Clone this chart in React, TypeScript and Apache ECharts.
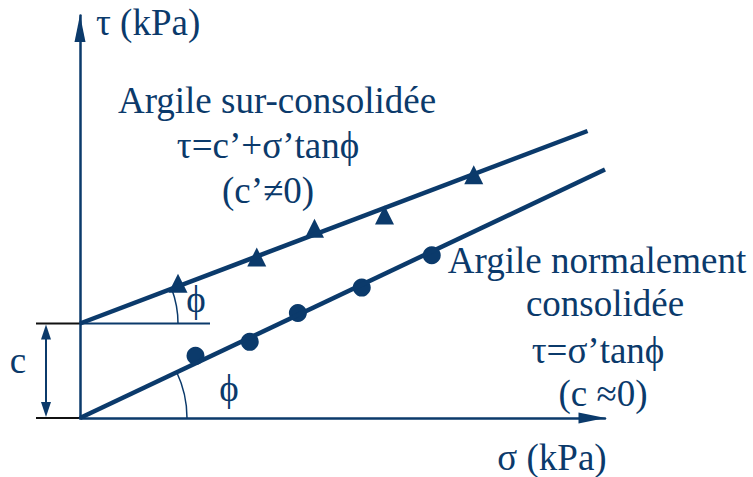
import React, { useEffect, useRef } from "react";
import * as echarts from "echarts";

const NAVY = "#0b3a6b";
const FONT_FAMILY = "Liberation Serif";

// Axis ranges (kPa)
const sigmaRange = [0, 300];
const tauRange = [0, 230];

// Shear tests on over-consolidated clay: effective normal stress σ' and shear stress τ (kPa)
const overSigma = [56, 101, 134, 174, 225];
const overTau = [77, 92, 108.5, 116, 139];

// Shear tests on normally consolidated clay
const normSigma = [66, 97, 124.5, 161, 201];
const normTau = [35.5, 43.5, 60, 74.5, 93];

// Failure envelopes (end points, kPa)
const overEnvelope = [
  [0, 54],
  [290, 164],
];
const normEnvelope = [
  [0, 0],
  [300, 142],
];

export default function App() {
  const ref = useRef<HTMLDivElement>(null);

  useEffect(() => {
    if (!ref.current) return;
    const chart = echarts.init(ref.current, null, { renderer: "svg" });

    const axisCommon = {
      axisTick: { show: false },
      axisLabel: { show: false },
      splitLine: { show: false },
    };

    chart.setOption({
      animation: false,
      backgroundColor: "#ffffff",
      grid: { left: 80, right: 148, top: 15.5, bottom: 59 },
      xAxis: {
        type: "value",
        min: sigmaRange[0],
        max: sigmaRange[1],
        ...axisCommon,
        axisLine: {
          show: true,
          lineStyle: { color: NAVY, width: 2.5 },
          symbol: ["none", "triangle"],
          symbolSize: [11, 27],
          symbolOffset: [0, -13],
        },
      },
      yAxis: {
        type: "value",
        min: tauRange[0],
        max: tauRange[1],
        ...axisCommon,
        axisLine: {
          show: true,
          lineStyle: { color: NAVY, width: 2.5 },
          symbol: ["none", "triangle"],
          symbolSize: [11, 27],
          symbolOffset: [0, -13],
        },
      },
      series: [
        {
          name: "Argile sur-consolidée (enveloppe)",
          type: "line",
          data: overEnvelope,
          symbol: "none",
          lineStyle: { color: NAVY, width: 4.5 },
        },
        {
          name: "Argile normalement consolidée (enveloppe)",
          type: "line",
          data: normEnvelope,
          symbol: "none",
          lineStyle: { color: NAVY, width: 4.5 },
        },
        {
          name: "Argile sur-consolidée",
          type: "scatter",
          symbol: "triangle",
          symbolSize: 19,
          itemStyle: { color: NAVY, opacity: 1 },
          data: overSigma.map((s, i) => [s, overTau[i]]),
        },
        {
          name: "Argile normalement consolidée",
          type: "scatter",
          symbol: "circle",
          symbolSize: 18,
          itemStyle: { color: NAVY, opacity: 1 },
          data: normSigma.map((s, i) => [s, normTau[i]]),
        },
      ],
    });

    const px = (p: number[]) =>
      chart.convertToPixel({ gridIndex: 0 }, p) as number[];

    const o0 = px(overEnvelope[0]);
    const o1 = px(overEnvelope[1]);
    const n0 = px(normEnvelope[0]);
    const n1 = px(normEnvelope[1]);
    const phiOver = Math.atan2(o0[1] - o1[1], o1[0] - o0[0]);
    const phiNorm = Math.atan2(n0[1] - n1[1], n1[0] - n0[0]);

    const text = (
      t: string,
      x: number,
      y: number,
      align: "left" | "center" = "center"
    ) => ({
      type: "text",
      x,
      y,
      style: {
        text: t,
        fill: NAVY,
        fontSize: 37,
        fontFamily: FONT_FAMILY,
        align,
        verticalAlign: "middle",
      },
    });

    const dimX = o0[0] - 34;
    const arrowH = 15;
    const arrowW = 5;

    chart.setOption({
      graphic: [
        // horizontal reference for the upper angle
        {
          type: "line",
          shape: { x1: o0[0], y1: o0[1], x2: o0[0] + 130, y2: o0[1] },
          style: { stroke: NAVY, lineWidth: 2 },
        },
        // friction angle arcs
        {
          type: "arc",
          shape: {
            cx: o0[0],
            cy: o0[1],
            r: 98,
            startAngle: -phiOver,
            endAngle: 0,
            clockwise: true,
          },
          style: { stroke: NAVY, lineWidth: 1.5, fill: "none" },
        },
        {
          type: "arc",
          shape: {
            cx: n0[0],
            cy: n0[1],
            r: 107,
            startAngle: -phiNorm,
            endAngle: 0,
            clockwise: true,
          },
          style: { stroke: NAVY, lineWidth: 1.5, fill: "none" },
        },
        // cohesion dimension
        {
          type: "line",
          shape: { x1: o0[0] - 44, y1: o0[1], x2: o0[0], y2: o0[1] },
          style: { stroke: "#111111", lineWidth: 2 },
        },
        {
          type: "line",
          shape: { x1: n0[0] - 44, y1: n0[1], x2: n0[0], y2: n0[1] },
          style: { stroke: "#111111", lineWidth: 2 },
        },
        {
          type: "line",
          shape: { x1: dimX, y1: o0[1] + 6, x2: dimX, y2: n0[1] - 6 },
          style: { stroke: NAVY, lineWidth: 2 },
        },
        {
          type: "polygon",
          shape: {
            points: [
              [dimX, o0[1] + 1],
              [dimX - arrowW, o0[1] + 1 + arrowH],
              [dimX + arrowW, o0[1] + 1 + arrowH],
            ],
          },
          style: { fill: NAVY },
        },
        {
          type: "polygon",
          shape: {
            points: [
              [dimX, n0[1] - 1],
              [dimX - arrowW, n0[1] - 1 - arrowH],
              [dimX + arrowW, n0[1] - 1 - arrowH],
            ],
          },
          style: { fill: NAVY },
        },
        text("c", 18, 360),
        text("ϕ", 196, 299),
        text("ϕ", 229, 388),
        // axis titles
        text("τ (kPa)", 96, 22, "left"),
        text("σ (kPa)", 552, 457),
        // envelope labels
        text("Argile sur-consolidée", 277, 100),
        text("τ=c’+σ’tanϕ", 268, 145),
        text("(c’≠0)", 268, 190),
        text("Argile normalement", 597, 260),
        text("consolidée", 605, 303),
        text("τ=σ’tanϕ", 598, 350),
        text("(c ≈0)", 603, 393),
      ],
    });

    return () => chart.dispose();
  }, []);

  return (
    <div
      ref={ref}
      style={{
        position: "fixed",
        left: 0,
        top: 0,
        width: 753,
        height: 477,
        background: "#ffffff",
      }}
    />
  );
}
